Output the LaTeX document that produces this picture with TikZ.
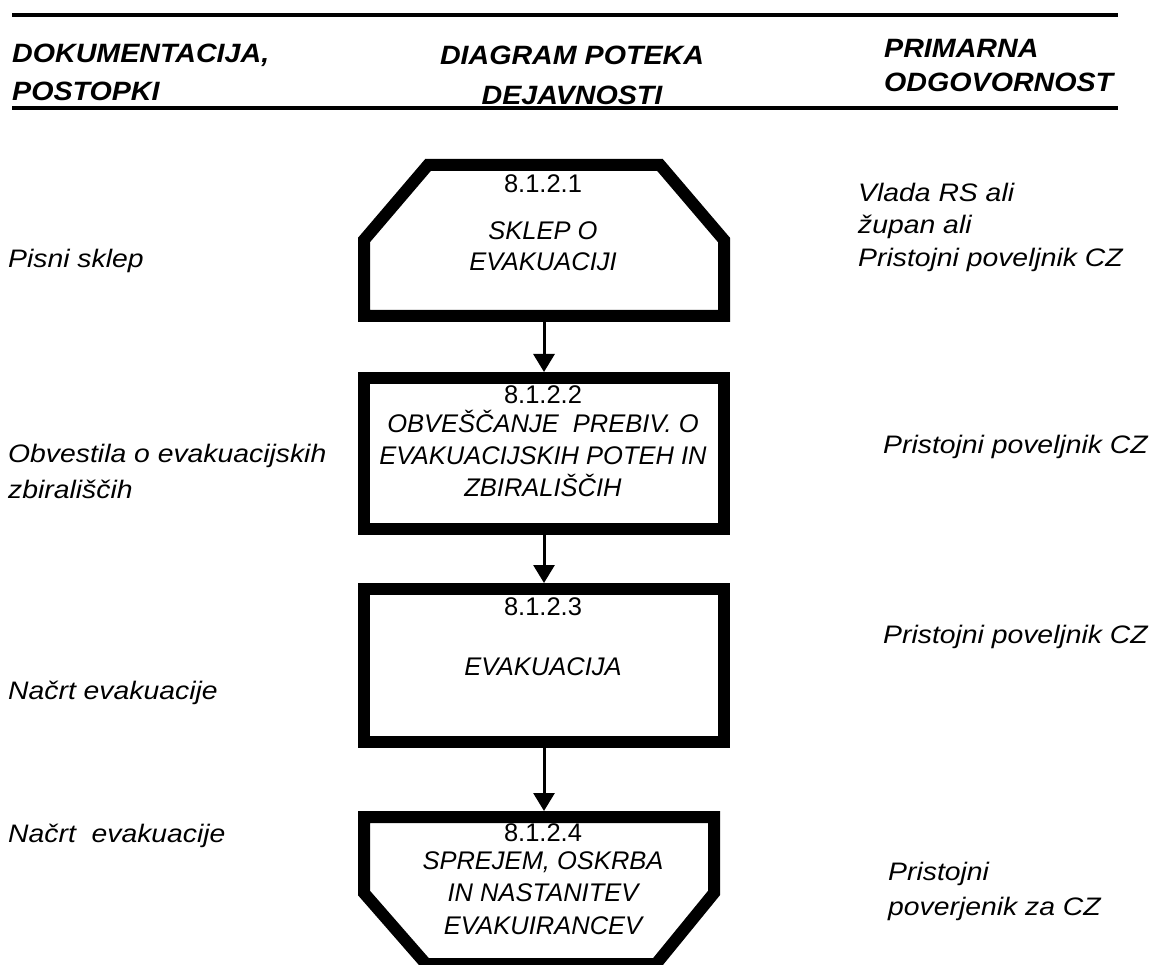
\documentclass[tikz,border=0pt]{standalone}
\usepackage{fontspec}
\setmainfont{Liberation Sans}
\newfontfamily\sidefont{Liberation Sans}[FakeStretch=1.12]
\newfontfamily\hdrfont{Liberation Sans}[FakeStretch=1.08]
\usetikzlibrary{arrows.meta}
\tikzset{
  frame/.style={draw, line width=12pt, line join=miter},
  rbox/.style={draw, line width=12pt, minimum width=360pt, inner sep=0pt, outer sep=6pt},
  rule/.style={line width=4.5pt},
  arr/.style={line width=3pt, -{Triangle[width=21pt,length=18pt]}},
  hdr/.style={font=\hdrfont\bfseries\itshape\fontsize{26.5}{#1}\selectfont, inner sep=0pt},
  hdr/.default=38,
  side/.style={font=\sidefont\itshape\fontsize{25.3}{#1}\selectfont, inner sep=0pt, align=left, anchor=west},
  side/.default=33,
  num/.style={font=\fontsize{25.5}{30}\selectfont, inner sep=0pt},
  btxt/.style={font=\itshape\fontsize{25.5}{#1}\selectfont, inner sep=0pt, align=center},
  btxt/.default=32,
}
\begin{document}
\begin{tikzpicture}[x=1pt,y=-1pt]
\useasboundingbox (0,0) rectangle (1157,965);
\fill[white] (0,0) rectangle (1157,965);

% header rules
\coordinate (r1a) at (12,15);  \coordinate (r1b) at (1118,15);
\coordinate (r2a) at (12,108); \coordinate (r2b) at (1118,108);
\draw[rule] (r1a) -- (r1b);
\draw[rule] (r2a) -- (r2b);

% headers
\node[hdr=38, align=left, anchor=west] (h1) at (12,74) {\strut DOKUMENTACIJA,\\\strut POSTOPKI};
\node[hdr=40, align=center] (h2) at (572,77) {\strut DIAGRAM POTEKA\\\strut DEJAVNOSTI};
\node[hdr=34, align=left, anchor=west] (h3) at (884,68) {\strut PRIMARNA\\\strut ODGOVORNOST};

% box 1 (chamfered top)
\draw[frame] (364,316) -- (364,240) -- (428,165) -- (660,165) -- (724,240) -- (724,316) -- cycle;
\coordinate (b1s) at (544,322);
\node[num] (n1) at (543,184) {8.1.2.1};
\node[btxt=31] (t1) at (543,249) {\strut SKLEP O\\\strut EVAKUACIJI};

% box 2
\node[rbox, minimum height=151pt] (b2) at (544,453.5) {};
\node[num] (n2) at (543,395) {8.1.2.2};
\node[btxt=32] (t2) at (543,458) {\strut OBVEŠČANJE\ \ PREBIV. O\\\strut EVAKUACIJSKIH POTEH IN\\\strut ZBIRALIŠČIH};

% box 3
\node[rbox, minimum height=153pt] (b3) at (544,665.5) {};
\node[num] (n3) at (543,607) {8.1.2.3};
\node[btxt] (t3) at (543,667) {EVAKUACIJA};

% box 4 (chamfered bottom)
\draw[frame] (364,817) -- (714,817) -- (714,893) -- (656,964) -- (426,964) -- (364,893) -- cycle;
\coordinate (b4n) at (544,811);
\node[num] (n4) at (543,833) {8.1.2.4};
\node[btxt=32.5] (t4) at (543,893) {SPREJEM, OSKRBA\\IN NASTANITEV\\EVAKUIRANCEV};

% connectors
\draw[arr] (b1s) -- (b2.north);
\draw[arr] (b2.south) -- (b3.north);
\draw[arr] (b3.south) -- (b4n);

% left column
\node[side] (l1) at (8,261) {\strut Pisni sklep};
\node[side=36] (l2) at (8,473) {\strut Obvestila o evakuacijskih\\\strut zbirališčih};
\node[side] (l3) at (8,693) {\strut Načrt evakuacije};
\node[side] (l4) at (8,836) {\strut Načrt\ \ evakuacije};

% right column
\node[side=32.5] (r1) at (858,227.5) {\strut Vlada RS ali\\\strut župan ali\\\strut Pristojni poveljnik CZ};
\node[side] (r2) at (883,447) {\strut Pristojni poveljnik CZ};
\node[side] (r3) at (883,637) {\strut Pristojni poveljnik CZ};
\node[side=35] (r4) at (888,890.5) {\strut Pristojni\\\strut poverjenik za CZ};
\end{tikzpicture}
\end{document}
